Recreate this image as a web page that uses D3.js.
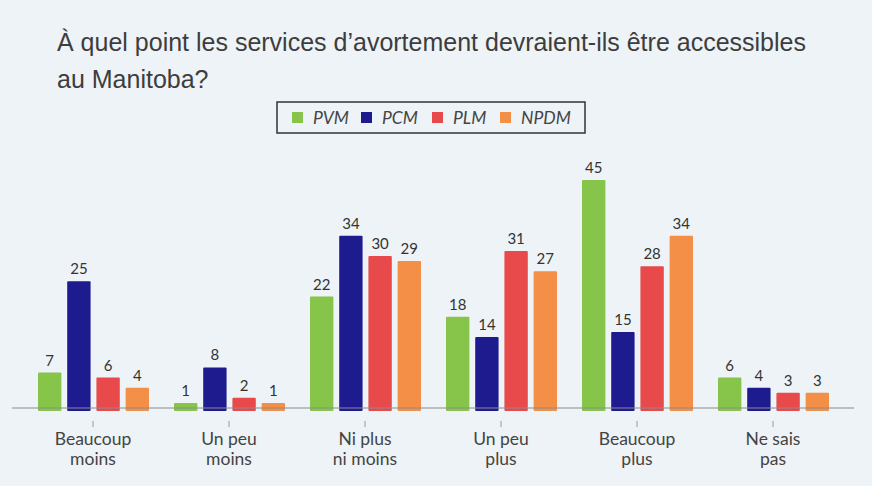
<!DOCTYPE html>
<html><head><meta charset="utf-8">
<script src="https://cdn.jsdelivr.net/npm/d3@7"></script>
<style>
html,body{margin:0;padding:0;background:#edf3f7;}
svg{display:block;}
</style></head>
<body>
<svg id="chart" width="872" height="486"></svg>
<script>
const titleLines = ["À quel point les services d’avortement devraient-ils être accessibles", "au Manitoba?"];
const categories = [["Beaucoup","moins"],["Un peu","moins"],["Ni plus","ni moins"],["Un peu","plus"],["Beaucoup","plus"],["Ne sais","pas"]];
const seriesNames = ["PVM","PCM","PLM","NPDM"];
const seriesColors = ["#86c44a","#1e1b8e","#e8494a","#f38f47"];
const PVM  = [7, 1, 22, 18, 45, 6];
const PCM  = [25, 8, 34, 14, 15, 4];
const PLM  = [6, 2, 30, 31, 28, 3];
const NPDM = [4, 1, 29, 27, 34, 3];
const seriesValues = [PVM, PCM, PLM, NPDM];

const svg = d3.select("#chart");
svg.append("rect").attr("width",872).attr("height",486).attr("fill","#edf3f7");

// title
const title = svg.append("text").attr("x",57).attr("y",51)
  .attr("font-family","'Liberation Sans', Arial, sans-serif").attr("font-size",25).attr("fill","#3d3d3d");
titleLines.forEach((t,i)=>title.append("tspan").attr("x",57).attr("y",51+37*i).text(t));

// scales
const catKeys = categories.map(c=>c.join(" "));
const x0 = d3.scaleBand().domain(catKeys).range([25,841]).paddingInner(0).paddingOuter(0);
const x1 = d3.scaleBand().domain(seriesNames).range([13,124]).paddingInner(0.2).paddingOuter(0);
const baseY = 408;
const y = d3.scaleLinear().domain([0,45]).range([baseY, baseY-228]);

// bars
categories.forEach((c,ci)=>{
  const g = svg.append("g").attr("transform",`translate(${x0(catKeys[ci])},0)`);
  seriesNames.forEach((s,si)=>{
    const v = seriesValues[si][ci];
    g.append("rect").attr("x",x1(s)).attr("y",y(v)).attr("width",x1.bandwidth())
      .attr("height",y(0)-y(v)+3).attr("fill",seriesColors[si]).attr("rx",1);
    g.append("text").attr("x",x1(s)+x1.bandwidth()/2).attr("y",y(v)-7)
      .attr("text-anchor","middle").attr("font-family","Lato, sans-serif").attr("font-size",15)
      .attr("fill","#333").text(v);
  });
});

// axis line
svg.append("line").attr("x1",12).attr("x2",854).attr("y1",baseY).attr("y2",baseY)
  .attr("stroke","#8c8c8c").attr("stroke-width",1.2);

// x axis with ticks
const xAxis = d3.axisBottom(x0).tickSize(6).tickPadding(0).tickFormat("");
const ax = svg.append("g").attr("transform",`translate(0,${baseY+13})`).call(xAxis);
ax.select(".domain").remove();
ax.selectAll(".tick line").attr("stroke","#999");
categories.forEach((c,ci)=>{
  const t = svg.append("text").attr("text-anchor","middle").attr("font-family","Lato, sans-serif")
    .attr("font-size",17.5).attr("fill","#444");
  c.forEach((line,li)=>t.append("tspan").attr("x",x0(catKeys[ci])+x0.bandwidth()/2).attr("y",445+20*li).text(line));
});

// legend
const lg = svg.append("g");
lg.append("rect").attr("x",277).attr("y",102).attr("width",308).attr("height",31)
  .attr("fill","none").attr("stroke","#333").attr("stroke-width",1.5);
const legX = [292,361,432,500];
seriesNames.forEach((s,i)=>{
  lg.append("rect").attr("x",legX[i]).attr("y",112).attr("width",11).attr("height",11).attr("fill",seriesColors[i]);
  lg.append("text").attr("x",legX[i]+21).attr("y",123.5).attr("font-family","Lato, sans-serif")
    .attr("font-style","italic").attr("font-size",17.5).attr("fill","#444").text(s);
});
</script>
</body></html>
